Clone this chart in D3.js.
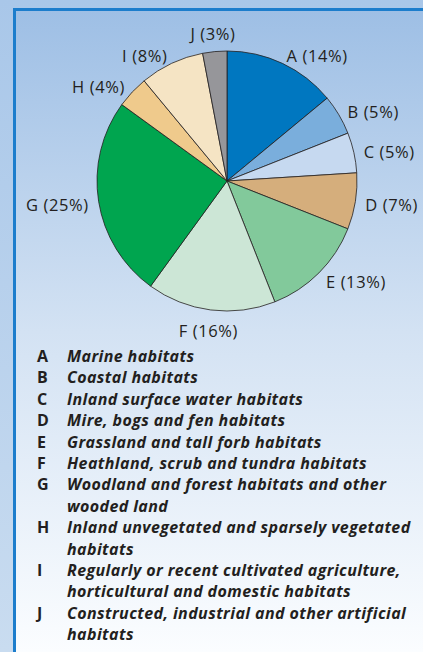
<!DOCTYPE html>
<html>
<head>
<meta charset="utf-8">
<script src="https://cdn.jsdelivr.net/npm/d3@7"></script>
<style>
  html, body { margin: 0; padding: 0; }
  body { width: 423px; height: 652px; overflow: hidden; }
  text { font-family: "Open Sans", Lato, sans-serif; fill: #231f20; }
</style>
</head>
<body>
<div id="chart"></div>
<script>
// habitat share (%), clockwise from 12 o'clock
const codes = ['A', 'B', 'C', 'D', 'E', 'F', 'G', 'H', 'I', 'J'];
const shares = [14, 5, 5, 7, 13, 16, 25, 4, 8, 3];
const colors = ['#0077c0', '#7aaedc', '#c6d9f0', '#d5ae7c', '#82c99b',
                '#cce6d6', '#00a54f', '#efca8c', '#f5e4c4', '#96969a'];
// legend descriptions, already broken into lines as in the print
const descriptions = [
  ['Marine habitats'],
  ['Coastal habitats'],
  ['Inland surface water habitats'],
  ['Mire, bogs and fen habitats'],
  ['Grassland and tall forb habitats'],
  ['Heathland, scrub and tundra habitats'],
  ['Woodland and forest habitats and other', 'wooded land'],
  ['Inland unvegetated and sparsely vegetated', 'habitats'],
  ['Regularly or recent cultivated agriculture,', 'horticultural and domestic habitats'],
  ['Constructed, industrial and other artificial', 'habitats']
];

const data = codes.map((c, i) => ({ code: c, value: shares[i], color: colors[i], desc: descriptions[i] }));

const width = 423;
const height = 652;

const svg = d3.select('#chart')
  .append('svg')
  .attr('width', width)
  .attr('height', height);

// backgrounds
const defs = svg.append('defs');
const outerGrad = defs.append('linearGradient').attr('id', 'outer').attr('x1', 0).attr('y1', 0).attr('x2', 0).attr('y2', 1);
outerGrad.append('stop').attr('offset', '0%').attr('stop-color', '#a9c7e9');
outerGrad.append('stop').attr('offset', '100%').attr('stop-color', '#c9dcf0');
const panelGrad = defs.append('linearGradient').attr('id', 'panel').attr('x1', 0).attr('y1', 0).attr('x2', 0).attr('y2', 1);
panelGrad.append('stop').attr('offset', '0%').attr('stop-color', '#9ebfe5');
panelGrad.append('stop').attr('offset', '50%').attr('stop-color', '#d3e2f3');
panelGrad.append('stop').attr('offset', '100%').attr('stop-color', '#fbfdff');

svg.append('rect').attr('width', width).attr('height', height).attr('fill', 'url(#outer)');
svg.append('rect')
  .attr('x', 13).attr('y', 8)
  .attr('width', width - 13).attr('height', height - 8)
  .attr('fill', '#1c7dcc');
svg.append('rect')
  .attr('x', 16).attr('y', 11)
  .attr('width', width - 16).attr('height', height - 11)
  .attr('fill', 'url(#panel)');

// pie
const cx = 227, cy = 181, r = 130;
const pie = d3.pie().value((d) => d.value).sort(null);
const arc = d3.arc().innerRadius(0).outerRadius(r);
const arcs = pie(data);

const g = svg.append('g').attr('transform', `translate(${cx},${cy})`);

g.selectAll('path')
  .data(arcs)
  .join('path')
  .attr('d', arc)
  .attr('fill', (d) => d.data.color)
  .attr('stroke', '#231f20')
  .attr('stroke-width', 0.8)
  .attr('stroke-linejoin', 'round');

// labels around the pie
g.selectAll('text.lbl')
  .data(arcs)
  .join('text')
  .attr('class', 'lbl')
  .each(function (d) {
    const a = (d.startAngle + d.endAngle) / 2;
    const s = Math.sin(a), c = -Math.cos(a);
    const mid = Math.abs(s) < 0.3;
    const rr = mid ? r + 19 : r + 10;
    d3.select(this)
      .attr('x', rr * s)
      .attr('y', rr * c + 2)
      .attr('dy', '0.35em')
      .attr('text-anchor', mid ? 'middle' : (s > 0 ? 'start' : 'end'));
  })
  .attr('font-size', 16.5)
  .attr('letter-spacing', 0.6)
  .text((d) => `${d.data.code} (${d.data.value}%)`);

// legend
const legendTop = 362;
const rowStep = 21.4;
let row = 0;
const legend = svg.append('g');
data.forEach((d) => {
  legend.append('text')
    .attr('x', 37)
    .attr('y', legendTop + row * rowStep)
    .attr('font-size', 16)
    .attr('font-weight', 700)
    .text(d.code);
  d.desc.forEach((line) => {
    legend.append('text')
      .attr('x', 67)
      .attr('y', legendTop + row * rowStep)
      .attr('font-size', 16)
      .attr('font-weight', 700)
      .attr('font-style', 'italic')
      .attr('letter-spacing', 0.4)
      .text(line);
    row++;
  });
});
</script>
</body>
</html>
